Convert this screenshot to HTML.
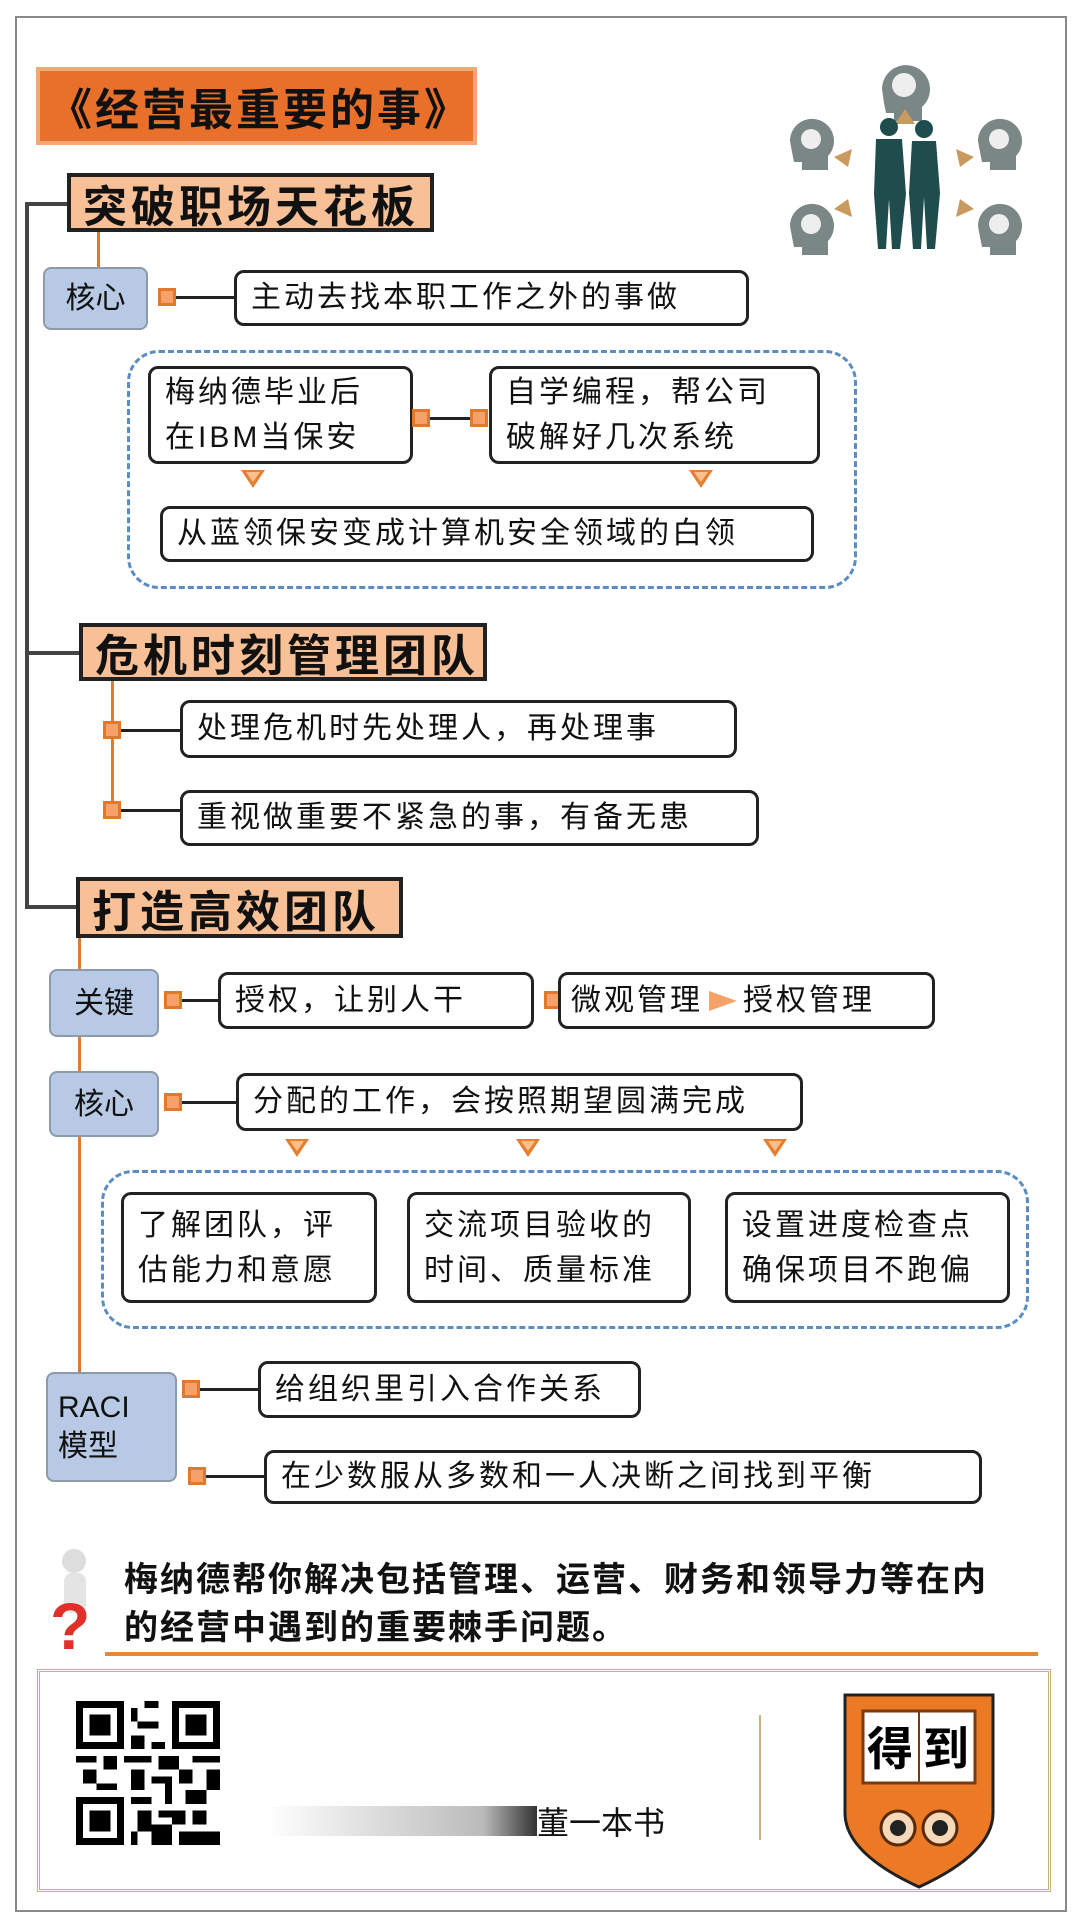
<!DOCTYPE html>
<html><head><meta charset="utf-8">
<style>
*{margin:0;padding:0;box-sizing:border-box}
body{width:1080px;height:1920px;background:#fff;position:relative;overflow:hidden;font-family:"Liberation Sans","Noto Sans CJK SC",sans-serif;color:#111}
.a{position:absolute}
.box{position:absolute;border:3px solid #222;border-radius:10px;background:#fff;font-size:30px;line-height:1.45;padding-left:14px;display:flex;align-items:center;white-space:nowrap;letter-spacing:3px}
.hd{position:absolute;border:4px solid #222;background:#f8c096;font-size:44px;font-weight:bold;display:flex;align-items:center;padding-left:12px;letter-spacing:4px}
.bl{position:absolute;background:#b7c9e4;border:2px solid #8c9aaa;border-radius:8px;font-size:30px;display:flex;align-items:center;justify-content:center;text-align:center;line-height:1.3}
.sq{position:absolute;width:18px;height:18px;background:#f5a26a;border:3px solid #e0782e}
.ln{position:absolute;background:#222;height:3px}
.ov{position:absolute;background:#e07b2e;width:3px}
.tri{position:absolute;width:0;height:0;border-left:12px solid transparent;border-right:12px solid transparent;border-top:18px solid #e57f32}
.tri:after{content:"";position:absolute;left:-7px;top:-16px;border-left:7px solid transparent;border-right:7px solid transparent;border-top:10px solid #f9c08f}
.dash{position:absolute;border:3px dashed #5b8cc4;border-radius:32px}
</style></head><body>
<div class="a" style="left:15px;top:16px;width:1052px;height:1896px;border:2px solid #888"></div>

<div class="a" style="left:36px;top:67px;width:441px;height:78px;background:#e8702a;border:4px solid #f4a774;font-size:44px;font-weight:bold;display:flex;align-items:center;padding-left:8px;letter-spacing:3px">《经营最重要的事》</div>

<svg class="a" style="left:782px;top:49px" width="245" height="214" viewBox="0 0 245 214">
<g fill="#7a8784">
<path d="M100 40a24 24 0 1 1 40 18v14h-28v-8h-8l-2-10z"/>
<path d="M8 92a22 22 0 1 1 38 15v14h-26v-8h-8l-2-10z"/>
<path d="M196 92a22 22 0 1 1 38 15v14h-26v-8h-8l-2-10z"/>
<path d="M8 177a22 22 0 1 1 38 15v14h-26v-8h-8l-2-10z"/>
<path d="M196 177a22 22 0 1 1 38 15v14h-26v-8h-8l-2-10z"/>
</g>
<g fill="#eee"><circle cx="122" cy="36" r="12"/><circle cx="29" cy="90" r="10"/><circle cx="217" cy="90" r="10"/><circle cx="29" cy="175" r="10"/><circle cx="217" cy="175" r="10"/></g>
<g fill="#c99a5e"><polygon points="123,60 113,75 133,75"/><polygon points="52,108 70,100 66,118"/><polygon points="192,108 174,100 178,118"/><polygon points="52,160 70,168 66,150"/><polygon points="192,160 174,168 178,150"/></g>
<g fill="#1f4c4c"><circle cx="107" cy="78" r="9"/><path d="M94 90h26l4 55-6 55h-8l-3-50-3 50h-8l-4-55z"/><circle cx="142" cy="80" r="9"/><path d="M130 92h24l4 52-5 56h-8l-3-52-3 52h-8l-4-56z"/></g>
</svg>

<div class="a" style="left:25px;top:204px;width:4px;height:705px;background:#444"></div>
<div class="a" style="left:25px;top:202px;width:44px;height:4px;background:#444"></div>
<div class="a" style="left:25px;top:651px;width:56px;height:4px;background:#444"></div>
<div class="a" style="left:25px;top:905px;width:52px;height:4px;background:#444"></div>

<div class="hd" style="left:67px;top:173px;width:367px;height:59px">突破职场天花板</div>
<div class="ov" style="left:97px;top:232px;height:36px"></div>
<div class="bl" style="left:43px;top:267px;width:105px;height:63px">核心</div>
<div class="sq" style="left:158px;top:288px"></div>
<div class="ln" style="left:176px;top:296px;width:60px"></div>
<div class="box" style="left:234px;top:270px;width:515px;height:56px">主动去找本职工作之外的事做</div>

<div class="dash" style="left:127px;top:350px;width:730px;height:239px"></div>
<div class="box" style="left:148px;top:366px;width:265px;height:98px;line-height:1.5">梅纳德毕业后<br>在IBM当保安</div>
<div class="sq" style="left:412px;top:409px"></div>
<div class="ln" style="left:430px;top:417px;width:42px"></div>
<div class="sq" style="left:470px;top:409px"></div>
<div class="box" style="left:489px;top:366px;width:331px;height:98px;line-height:1.5">自学编程，帮公司<br>破解好几次系统</div>
<div class="tri" style="left:241px;top:470px"></div>
<div class="tri" style="left:689px;top:470px"></div>
<div class="box" style="left:160px;top:506px;width:654px;height:56px">从蓝领保安变成计算机安全领域的白领</div>

<div class="hd" style="left:79px;top:623px;width:408px;height:58px">危机时刻管理团队</div>
<div class="ov" style="left:111px;top:681px;height:130px"></div>
<div class="sq" style="left:103px;top:721px"></div>
<div class="ln" style="left:121px;top:729px;width:60px"></div>
<div class="box" style="left:180px;top:700px;width:557px;height:58px">处理危机时先处理人，再处理事</div>
<div class="sq" style="left:103px;top:801px"></div>
<div class="ln" style="left:121px;top:809px;width:60px"></div>
<div class="box" style="left:180px;top:790px;width:579px;height:56px">重视做重要不紧急的事，有备无患</div>

<div class="hd" style="left:76px;top:877px;width:327px;height:61px">打造高效团队</div>
<div class="ov" style="left:78px;top:938px;height:440px"></div>
<div class="bl" style="left:49px;top:969px;width:110px;height:68px">关键</div>
<div class="sq" style="left:164px;top:991px"></div>
<div class="ln" style="left:182px;top:999px;width:38px"></div>
<div class="box" style="left:218px;top:972px;width:316px;height:57px">授权，让别人干</div>
<div class="sq" style="left:544px;top:991px"></div>
<div class="box" style="left:558px;top:972px;width:377px;height:57px;padding-left:10px">微观管理 <span style="display:inline-block;width:0;height:0;border-top:10px solid transparent;border-bottom:10px solid transparent;border-left:28px solid #f5a26a;margin:0 6px"></span>授权管理</div>

<div class="bl" style="left:49px;top:1071px;width:110px;height:66px">核心</div>
<div class="sq" style="left:164px;top:1093px"></div>
<div class="ln" style="left:182px;top:1101px;width:56px"></div>
<div class="box" style="left:236px;top:1073px;width:567px;height:58px">分配的工作，会按照期望圆满完成</div>
<div class="tri" style="left:285px;top:1139px"></div>
<div class="tri" style="left:516px;top:1139px"></div>
<div class="tri" style="left:763px;top:1139px"></div>

<div class="dash" style="left:101px;top:1170px;width:928px;height:159px"></div>
<div class="box" style="left:121px;top:1192px;width:256px;height:111px;line-height:1.5">了解团队，评<br>估能力和意愿</div>
<div class="box" style="left:407px;top:1192px;width:284px;height:111px;line-height:1.5">交流项目验收的<br>时间、质量标准</div>
<div class="box" style="left:725px;top:1192px;width:285px;height:111px;line-height:1.5">设置进度检查点<br>确保项目不跑偏</div>

<div class="bl" style="left:46px;top:1372px;width:131px;height:110px;justify-content:flex-start;padding-left:10px;text-align:left">RACI<br>模型</div>
<div class="sq" style="left:182px;top:1380px"></div>
<div class="ln" style="left:200px;top:1388px;width:60px"></div>
<div class="box" style="left:258px;top:1361px;width:383px;height:57px">给组织里引入合作关系</div>
<div class="sq" style="left:188px;top:1467px"></div>
<div class="ln" style="left:206px;top:1475px;width:60px"></div>
<div class="box" style="left:264px;top:1450px;width:718px;height:54px">在少数服从多数和一人决断之间找到平衡</div>

<svg class="a" style="left:44px;top:1547px" width="56" height="110" viewBox="0 0 56 110">
<circle cx="30" cy="14" r="12" fill="#ddd"/><rect x="20" y="26" width="22" height="40" rx="8" fill="#e4e4e4"/>
<text x="6" y="102" font-size="66" font-weight="bold" fill="#e0302a" font-family="Liberation Sans">?</text></svg>
<div class="a" style="left:124px;top:1556px;font-size:34px;line-height:48px;font-weight:bold;letter-spacing:2px;white-space:nowrap">梅纳德帮你解决包括管理、运营、财务和领导力等在内<br>的经营中遇到的重要棘手问题。</div>
<div class="a" style="left:105px;top:1652px;width:933px;height:4px;background:#e08a3a"></div>

<div class="a" style="left:37px;top:1669px;width:1014px;height:223px;border:3px double #c8b27a"></div>
<svg class="a" style="left:76px;top:1700px" width="144" height="146" viewBox="0 0 21 21" shape-rendering="crispEdges">
<rect width="21" height="21" fill="#fff"/>
<g fill="#000">
<rect x="0" y="0" width="7" height="7"/><rect x="14" y="0" width="7" height="7"/><rect x="0" y="14" width="7" height="7"/>
<rect x="8" y="1" width="1" height="2"/><rect x="10" y="0" width="2" height="1"/><rect x="9" y="3" width="3" height="1"/><rect x="8" y="5" width="2" height="2"/><rect x="11" y="6" width="2" height="1"/>
<rect x="0" y="8" width="3" height="1"/><rect x="4" y="8" width="2" height="2"/><rect x="7" y="8" width="4" height="1"/><rect x="12" y="8" width="3" height="2"/><rect x="17" y="8" width="4" height="1"/>
<rect x="1" y="10" width="2" height="2"/><rect x="8" y="10" width="2" height="3"/><rect x="11" y="11" width="3" height="1"/><rect x="15" y="10" width="2" height="2"/><rect x="19" y="10" width="2" height="3"/>
<rect x="3" y="12" width="3" height="1"/><rect x="13" y="12" width="1" height="3"/><rect x="16" y="13" width="3" height="2"/>
<rect x="8" y="14" width="3" height="1"/><rect x="9" y="16" width="2" height="3"/><rect x="12" y="16" width="4" height="1"/><rect x="17" y="16" width="2" height="2"/>
<rect x="8" y="19" width="1" height="2"/><rect x="11" y="18" width="3" height="3"/><rect x="15" y="19" width="6" height="2"/><rect x="14" y="17" width="2" height="1"/>
</g>
<g fill="#fff"><rect x="1" y="1" width="5" height="5"/><rect x="15" y="1" width="5" height="5"/><rect x="1" y="15" width="5" height="5"/></g>
<g fill="#000"><rect x="2" y="2" width="3" height="3"/><rect x="16" y="2" width="3" height="3"/><rect x="2" y="16" width="3" height="3"/></g>
</svg>
<div class="a" style="left:267px;top:1806px;width:270px;height:30px;background:linear-gradient(90deg,#fff,#bbb 80%,#333)"></div>
<div class="a" style="left:537px;top:1798px;font-size:32px">董一本书</div>
<div class="a" style="left:759px;top:1715px;width:2px;height:125px;background:#c8b27a"></div>
<svg class="a" style="left:843px;top:1693px" width="152" height="196" viewBox="0 0 152 196">
<path d="M2 2H150V120Q150 160 76 194Q2 160 2 120Z" fill="#ec7a24" stroke="#222" stroke-width="3"/>
<rect x="20" y="18" width="112" height="72" fill="#fff" stroke="#7a3a10" stroke-width="3"/>
<line x1="76" y1="18" x2="76" y2="90" stroke="#7a3a10" stroke-width="2"/>
<text x="24" y="72" font-size="46" font-family="Noto Sans CJK SC" font-weight="bold">得</text>
<text x="80" y="72" font-size="46" font-family="Noto Sans CJK SC" font-weight="bold">到</text>
<circle cx="55" cy="135" r="17" fill="#f5d9b8" stroke="#5a2a08" stroke-width="3"/><circle cx="97" cy="135" r="17" fill="#f5d9b8" stroke="#5a2a08" stroke-width="3"/>
<circle cx="55" cy="135" r="8" fill="#222"/><circle cx="97" cy="135" r="8" fill="#222"/>
</svg>
</body></html>
